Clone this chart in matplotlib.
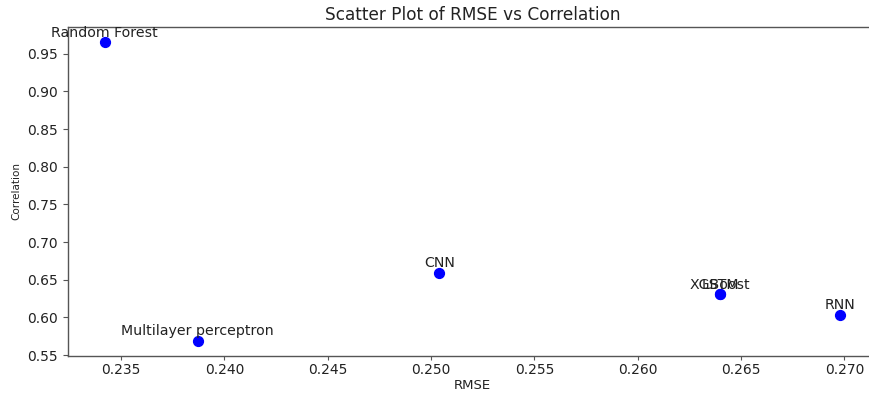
import matplotlib
matplotlib.use("Agg")
import matplotlib.pyplot as plt

# values
models = ["Random Forest", "Multilayer perceptron", "CNN", "XGBoost", "LSTM", "RNN"]
rmse = [0.2342, 0.2387, 0.2504, 0.2640, 0.2640, 0.2698]
correlation = [0.9653, 0.5689, 0.6594, 0.6307, 0.6307, 0.6033]

fig = plt.figure(figsize=(8.7, 3.94), dpi=100)
ax = fig.add_axes([0.078, 0.097, 0.93, 0.834])

ax.scatter(rmse, correlation, color="blue", s=50, zorder=3)

for name, x, y in zip(models, rmse, correlation):
    ax.annotate(
        name,
        (x, y),
        textcoords="offset points",
        xytext=(0, 4),
        ha="center",
        fontsize=10.2,
        color="#222222",
    )

ax.set_title("Scatter Plot of RMSE vs Correlation", fontsize=12.2, color="#222222", pad=5)
ax.set_xlabel("RMSE", fontsize=9.5, color="#222222", labelpad=1)
ax.set_ylabel("Correlation", fontsize=7.5, color="#222222")
ax.tick_params(axis="both", labelsize=10, labelcolor="#222222", color="#555555")
ax.tick_params(axis="x", length=2.8, pad=2.5)
for sp in ax.spines.values():
    sp.set_color("#555555")
    sp.set_linewidth(1.0)

fig.savefig("out.png", dpi=100)
